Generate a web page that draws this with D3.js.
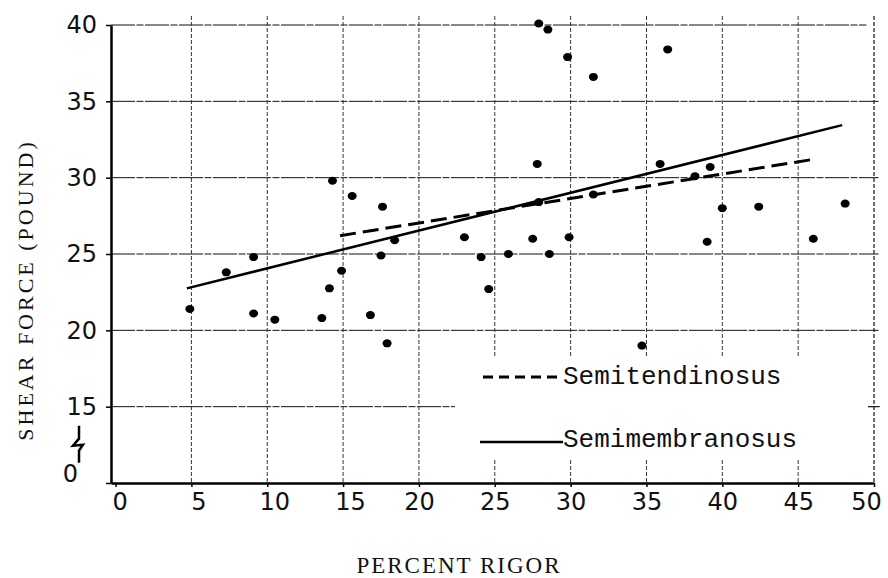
<!DOCTYPE html>
<html>
<head>
<meta charset="utf-8">
<script src="https://cdn.jsdelivr.net/npm/d3@7"></script>
<style>
  body { margin: 0; background: #fff; }
  svg { display: block; }
</style>
</head>
<body>
<div id="chart"></div>
<script>
// percent rigor vs shear force
const rigor = [4.9, 7.3, 9.1, 9.1, 10.5, 14.3, 15.6, 17.6, 18.4, 17.5, 14.9, 14.1, 13.6, 16.8, 17.9,
    23.0, 24.1, 25.9, 24.6, 27.5, 28.6, 29.9, 27.9, 27.9, 28.5, 29.8, 27.8, 31.5, 36.4, 35.9,
    38.2, 39.2, 31.5, 39.0, 40.0, 42.4, 46.0, 48.1, 34.7];
const shear = [21.4, 23.8, 24.8, 21.1, 20.7, 29.8, 28.8, 28.1, 25.9, 24.9, 23.9, 22.75, 20.8, 21.0, 19.15,
    26.1, 24.8, 25.0, 22.7, 26.0, 25.0, 26.1, 28.4, 40.1, 39.7, 37.9, 30.9, 36.6, 38.4, 30.9,
    30.1, 30.7, 28.9, 25.8, 28.0, 28.1, 26.0, 28.3, 19.0];

// regression lines (end points)
const semimembX = [4.7, 47.9];
const semimembY = [22.75, 33.44];
const semitendX = [14.8, 46.0];
const semitendY = [26.2, 31.2];

const xTicks = [0, 5, 10, 15, 20, 25, 30, 35, 40, 45, 50];
const yTicks = [10, 15, 20, 25, 30, 35, 40];
const yTickLabels = ["0", "15", "20", "25", "30", "35", "40"];
const legendLabels = ["Semitendinosus", "Semimembranosus"];

const W = 888, H = 578;

const svg = d3.select("#chart").append("svg")
    .attr("width", W)
    .attr("height", H);

// y axis is broken: bottom position stands for 0 (drawn where 10 would be)
const x = d3.scaleLinear().domain([-0.3, 50]).range([111, 874]);
const y = d3.scaleLinear().domain([10, 40]).range([483, 25]);

// gridlines
const grid = svg.append("g").attr("class", "grid");
grid.selectAll("line.h")
    .data(yTicks.filter(d => d > 10)).enter().append("line")
    .attr("class", "h")
    .attr("x1", x(-0.3)).attr("x2", d => d === 40 ? x(49.5) : x(50.3))
    .attr("y1", d => y(d)).attr("y2", d => y(d))
    .attr("stroke", "#111").attr("stroke-width", 1)
    .attr("stroke-dasharray", "24,1.5,7,1.5");

grid.selectAll("line.v")
    .data(xTicks.filter(d => d > 0)).enter().append("line")
    .attr("class", "v")
    .attr("x1", d => x(d)).attr("x2", d => x(d))
    .attr("y1", y(40) - 9).attr("y2", y(10))
    .attr("stroke", "#333").attr("stroke-width", d => d === 50 ? 1.4 : 1)
    .attr("stroke-dasharray", "4,2");

// legend area is left blank on the original
svg.append("rect")
    .attr("x", 455).attr("y", 358)
    .attr("width", 413).attr("height", 100)
    .attr("fill", "#fff");

// small tick on the right frame at 15
svg.append("line")
    .attr("x1", x(50) - 6).attr("x2", x(50) + 6)
    .attr("y1", y(15)).attr("y2", y(15))
    .attr("stroke", "#222").attr("stroke-width", 1);

// axes
const xAxis = svg.append("g")
    .attr("transform", `translate(0,${y(10)})`)
    .call(d3.axisBottom(x).tickValues(xTicks).tickSize(4).tickSizeOuter(0));

xAxis.select(".domain").attr("stroke", "#000").attr("stroke-width", 2.5);
xAxis.selectAll(".tick line").attr("stroke", "#000").attr("stroke-width", 1.5);
xAxis.selectAll(".tick text")
    .attr("y", 10)
    .attr("font-family", "DejaVu Sans, sans-serif")
    .attr("font-size", 24)
    .attr("fill", "#111");

// typed labels sit a little off their ticks near the ends
xAxis.selectAll(".tick text").filter(d => d === 50).attr("dx", -8);
xAxis.selectAll(".tick text").filter(d => d > 0 && d <= 15).attr("dx", 7);
xAxis.selectAll(".tick text").filter(d => d === 0).attr("dx", 4);

const yAxis = svg.append("g")
    .attr("transform", `translate(${x(-0.3)},0)`)
    .call(d3.axisLeft(y).tickValues(yTicks).tickSize(5).tickSizeOuter(0)
        .tickFormat((d, i) => yTickLabels[i]));

yAxis.select(".domain").attr("stroke", "#000").attr("stroke-width", 2.5);
yAxis.selectAll(".tick line").attr("stroke", "#000").attr("stroke-width", 1.5);
yAxis.selectAll(".tick text")
    .attr("x", -14)
    .attr("font-family", "DejaVu Sans, sans-serif")
    .attr("font-size", 24)
    .attr("fill", "#111");

// the "0" is typed further left and sits on the axis line
yAxis.selectAll(".tick text").filter(d => d === 10)
    .attr("x", -33)
    .attr("dy", "-0.05em");

// break mark on the y axis
const bx = x(-0.3) - 32;
const by = y(15) + 19;
svg.append("path")
    .attr("d", `M${bx},${by} L${bx},${by + 13} L${bx - 6},${by + 20} L${bx + 4},${by + 19} L${bx},${by + 25} L${bx},${by + 37}`)
    .attr("fill", "none")
    .attr("stroke", "#000")
    .attr("stroke-width", 2.5);

// regression lines
const line = d3.line().x(d => x(d[0])).y(d => y(d[1]));

svg.append("path")
    .datum(d3.zip(semimembX, semimembY))
    .attr("d", line)
    .attr("fill", "none")
    .attr("stroke", "#000")
    .attr("stroke-width", 2.5);

svg.append("path")
    .datum(d3.zip(semitendX, semitendY))
    .attr("d", line)
    .attr("fill", "none")
    .attr("stroke", "#000")
    .attr("stroke-width", 3)
    .attr("stroke-dasharray", "16,7");

// data points
svg.selectAll("ellipse.pt")
    .data(d3.zip(rigor, shear)).enter().append("ellipse")
    .attr("class", "pt")
    .attr("cx", d => x(d[0]))
    .attr("cy", d => y(d[1]))
    .attr("rx", 4.5)
    .attr("ry", 4)
    .attr("fill", "#000");

// legend
const legend = svg.append("g");
legend.append("line")
    .attr("x1", 483).attr("x2", 562)
    .attr("y1", 377).attr("y2", 377)
    .attr("stroke", "#000").attr("stroke-width", 3)
    .attr("stroke-dasharray", "10,6");
legend.append("line")
    .attr("x1", 480).attr("x2", 563)
    .attr("y1", 442).attr("y2", 442)
    .attr("stroke", "#000").attr("stroke-width", 2.5);

legend.selectAll("text")
    .data(legendLabels).enter().append("text")
    .attr("x", 563)
    .attr("y", (d, i) => i === 0 ? 384 : 447)
    .attr("font-family", "Liberation Mono, monospace")
    .attr("font-size", 26)
    .attr("fill", "#111")
    .text(d => d);

// axis titles
svg.append("text")
    .attr("x", 459).attr("y", 573)
    .attr("text-anchor", "middle")
    .attr("font-family", "Liberation Serif, serif")
    .attr("font-size", 23)
    .attr("letter-spacing", 2)
    .attr("fill", "#111")
    .text("PERCENT RIGOR");

svg.append("text")
    .attr("transform", "translate(33,290) rotate(-90)")
    .attr("text-anchor", "middle")
    .attr("font-family", "Liberation Serif, serif")
    .attr("font-size", 22)
    .attr("letter-spacing", 3)
    .attr("fill", "#111")
    .text("SHEAR FORCE (POUND)");
</script>
</body>
</html>
